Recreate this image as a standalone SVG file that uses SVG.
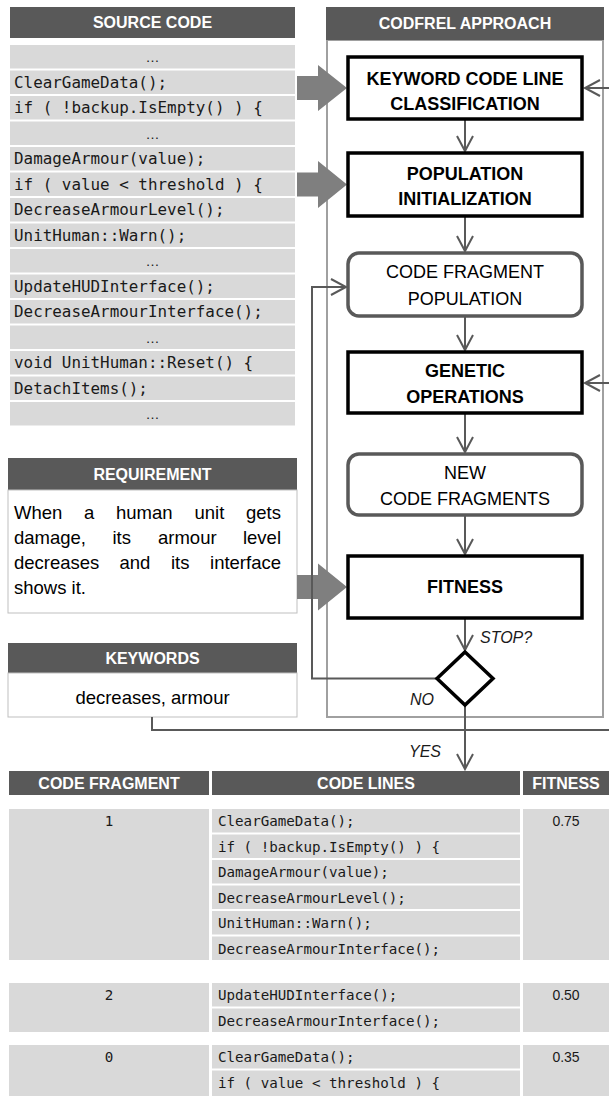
<svg xmlns="http://www.w3.org/2000/svg" width="609" height="1096" viewBox="0 0 609 1096">
<style>
.hdr{fill:#595959}
.hdrt{font-family:"Liberation Sans",Arial,sans-serif;font-weight:bold;font-size:16px;fill:#fff;text-anchor:middle}
.row{fill:#d9d9d9}
.code{font-family:"DejaVu Sans Mono","Liberation Mono",monospace;font-size:15.9px;fill:#1a1a1a}
.tcode{font-family:"DejaVu Sans Mono","Liberation Mono",monospace;font-size:14.2px;fill:#1a1a1a}
.ell{font-family:"Liberation Sans",Arial,sans-serif;font-size:14px;fill:#1a1a1a;text-anchor:middle}
.bbox{fill:#fff;stroke:#000;stroke-width:3.5}
.rbox{fill:#fff;stroke:#595959;stroke-width:3.5}
.bt{font-family:"Liberation Sans",Arial,sans-serif;font-weight:bold;font-size:18px;fill:#000;text-anchor:middle}
.nt{font-family:"Liberation Sans",Arial,sans-serif;font-size:18px;fill:#000;text-anchor:middle}
.body{font-family:"Liberation Sans",Arial,sans-serif;font-size:18.5px;fill:#000}
.lbl{font-family:"Liberation Sans",Arial,sans-serif;font-style:italic;font-size:16px;fill:#1a1a1a}
.con{fill:none;stroke:#595959;stroke-width:2}
.big{fill:#7f7f7f}
.num{font-family:"Liberation Sans",Arial,sans-serif;font-size:14px;fill:#1a1a1a;text-anchor:middle}
</style>
<defs>
<marker id="ah" markerUnits="userSpaceOnUse" markerWidth="20" markerHeight="20" viewBox="-16 -10 18 20" refX="0" refY="0" orient="auto">
<path d="M-15,-8 L0,0 L-15,8" fill="none" stroke="#595959" stroke-width="2"/>
</marker>
</defs>

<g id="source-code">
<rect class="hdr" x="10" y="7" width="285" height="31"/>
<text class="hdrt" x="152.5" y="28">SOURCE CODE</text>
<rect class="row" x="10" y="45" width="285" height="23.5"/>
<text class="ell" x="152.5" y="62">…</text>
<rect class="row" x="10" y="70.5" width="285" height="23.5"/>
<text class="code" x="14" y="87.5">ClearGameData();</text>
<rect class="row" x="10" y="96" width="285" height="23.5"/>
<text class="code" x="14" y="113">if ( !backup.IsEmpty() ) {</text>
<rect class="row" x="10" y="121.5" width="285" height="23.5"/>
<text class="ell" x="152.5" y="138.5">…</text>
<rect class="row" x="10" y="147" width="285" height="23.5"/>
<text class="code" x="14" y="164">DamageArmour(value);</text>
<rect class="row" x="10" y="172.5" width="285" height="23.5"/>
<text class="code" x="14" y="189.5">if ( value &lt; threshold ) {</text>
<rect class="row" x="10" y="198" width="285" height="23.5"/>
<text class="code" x="14" y="215">DecreaseArmourLevel();</text>
<rect class="row" x="10" y="223.5" width="285" height="23.5"/>
<text class="code" x="14" y="240.5">UnitHuman::Warn();</text>
<rect class="row" x="10" y="249" width="285" height="23.5"/>
<text class="ell" x="152.5" y="266">…</text>
<rect class="row" x="10" y="274.5" width="285" height="23.5"/>
<text class="code" x="14" y="291.5">UpdateHUDInterface();</text>
<rect class="row" x="10" y="300" width="285" height="23.5"/>
<text class="code" x="14" y="317">DecreaseArmourInterface();</text>
<rect class="row" x="10" y="325.5" width="285" height="23.5"/>
<text class="ell" x="152.5" y="342.5">…</text>
<rect class="row" x="10" y="351" width="285" height="23.5"/>
<text class="code" x="14" y="368">void UnitHuman::Reset() {</text>
<rect class="row" x="10" y="376.5" width="285" height="23.5"/>
<text class="code" x="14" y="393.5">DetachItems();</text>
<rect class="row" x="10" y="402" width="285" height="23.5"/>
<text class="ell" x="152.5" y="419">…</text>
</g>

<g id="requirement">
<rect class="hdr" x="8" y="458" width="289" height="32"/>
<text class="hdrt" x="152.5" y="480">REQUIREMENT</text>
<rect x="8" y="490" width="289" height="123" fill="#fff" stroke="#bfbfbf" stroke-width="1"/>
<text class="body" y="519"><tspan x="14">When</tspan><tspan x="84">a</tspan><tspan x="116">human</tspan><tspan x="194.5">unit</tspan><tspan x="281" text-anchor="end">gets</tspan></text>
<text class="body" y="544"><tspan x="14">damage,</tspan><tspan x="112.5">its</tspan><tspan x="158">armour</tspan><tspan x="281" text-anchor="end">level</tspan></text>
<text class="body" y="569"><tspan x="14">decreases</tspan><tspan x="119.5">and</tspan><tspan x="171">its</tspan><tspan x="281" text-anchor="end">interface</tspan></text>
<text class="body" x="14" y="594">shows it.</text>
</g>

<g id="keywords">
<rect class="hdr" x="8" y="643" width="289" height="30"/>
<text class="hdrt" x="152.5" y="664">KEYWORDS</text>
<rect x="8" y="673" width="289" height="44" fill="#fff" stroke="#bfbfbf" stroke-width="1"/>
<text class="body" x="152.5" y="704" text-anchor="middle">decreases, armour</text>
</g>

<g id="codfrel-approach">
<rect x="327" y="40" width="276" height="677" fill="#fff" stroke="#a0a0a0" stroke-width="2"/>
<rect class="hdr" x="326" y="7" width="278" height="33"/>
<text class="hdrt" x="465" y="29">CODFREL APPROACH</text>
</g>

<g id="big-arrows">
<polygon class="big" points="297,76 318,76 318,65 347,88 318,111 318,100 297,100"/>
<polygon class="big" points="297,172.5 318,172.5 318,161 347,184.5 318,208 318,196.5 297,196.5"/>
<polygon class="big" points="297,575 318,575 318,563.5 347,587 318,610.5 318,599 297,599"/>
</g>

<g id="connectors">
<path class="con" d="M465,119 V151" marker-end="url(#ah)"/>
<path class="con" d="M465,216 V251" marker-end="url(#ah)"/>
<path class="con" d="M465,316 V350" marker-end="url(#ah)"/>
<path class="con" d="M465,413 V452" marker-end="url(#ah)"/>
<path class="con" d="M465,515 V554" marker-end="url(#ah)"/>
<path class="con" d="M465,618 V650" marker-end="url(#ah)"/>
<path class="con" d="M465,705 V769" marker-end="url(#ah)"/>
<path class="con" d="M437,678.5 H312 V287 H346" marker-end="url(#ah)"/>
<path class="con" d="M152,717 V730 H612 V88"/>
<path class="con" d="M612,88 H585" marker-end="url(#ah)"/>
<path class="con" d="M612,383 H585" marker-end="url(#ah)"/>
</g>

<g id="keyword-classification">
<rect class="bbox" x="348" y="57" width="234" height="62"/>
<text class="bt" x="465" y="85">KEYWORD CODE LINE</text>
<text class="bt" x="465" y="110">CLASSIFICATION</text>
</g>
<g id="population-initialization">
<rect class="bbox" x="348" y="153" width="234" height="63"/>
<text class="bt" x="465" y="180">POPULATION</text>
<text class="bt" x="465" y="205">INITIALIZATION</text>
</g>
<g id="code-fragment-population">
<rect class="rbox" x="348" y="253" width="234" height="63" rx="11"/>
<text class="nt" x="465" y="278">CODE FRAGMENT</text>
<text class="nt" x="465" y="305">POPULATION</text>
</g>
<g id="genetic-operations">
<rect class="bbox" x="348" y="352" width="234" height="61"/>
<text class="bt" x="465" y="377">GENETIC</text>
<text class="bt" x="465" y="403">OPERATIONS</text>
</g>
<g id="new-code-fragments">
<rect class="rbox" x="348" y="454" width="234" height="61" rx="11"/>
<text class="nt" x="465" y="479">NEW</text>
<text class="nt" x="465" y="505">CODE FRAGMENTS</text>
</g>
<g id="fitness">
<rect class="bbox" x="348" y="556" width="234" height="62"/>
<text class="bt" x="465" y="593">FITNESS</text>
</g>
<g id="stop-decision">
<polygon points="465,652 493,678.5 465,705 437,678.5" fill="#fff" stroke="#000" stroke-width="3.5"/>
</g>
<g id="labels">
<text class="lbl" x="480" y="643">STOP?</text>
<text class="lbl" x="410" y="705">NO</text>
<text class="lbl" x="409" y="757">YES</text>
</g>

<g id="result-table">
<rect class="hdr" x="9" y="771" width="200" height="24"/>
<text class="hdrt" x="109" y="789">CODE FRAGMENT</text>
<rect class="hdr" x="212" y="771" width="308" height="24"/>
<text class="hdrt" x="366" y="789">CODE LINES</text>
<rect class="hdr" x="523" y="771" width="86" height="24"/>
<text class="hdrt" x="566" y="789">FITNESS</text>

<rect class="row" x="9" y="809" width="200" height="151"/>
<text class="tcode" x="109" y="826" text-anchor="middle">1</text>
<rect class="row" x="523" y="809" width="86" height="151"/>
<text class="num" x="566" y="826">0.75</text>
<rect class="row" x="212" y="809" width="308" height="23.5"/>
<text class="tcode" x="218" y="826">ClearGameData();</text>
<rect class="row" x="212" y="834.5" width="308" height="23.5"/>
<text class="tcode" x="218" y="851.5">if ( !backup.IsEmpty() ) {</text>
<rect class="row" x="212" y="860" width="308" height="23.5"/>
<text class="tcode" x="218" y="877">DamageArmour(value);</text>
<rect class="row" x="212" y="885.5" width="308" height="23.5"/>
<text class="tcode" x="218" y="902.5">DecreaseArmourLevel();</text>
<rect class="row" x="212" y="911" width="308" height="23.5"/>
<text class="tcode" x="218" y="928">UnitHuman::Warn();</text>
<rect class="row" x="212" y="936.5" width="308" height="23.5"/>
<text class="tcode" x="218" y="953.5">DecreaseArmourInterface();</text>

<rect class="row" x="9" y="983" width="200" height="49"/>
<text class="tcode" x="109" y="1000" text-anchor="middle">2</text>
<rect class="row" x="523" y="983" width="86" height="49"/>
<text class="num" x="566" y="1000">0.50</text>
<rect class="row" x="212" y="983" width="308" height="23.5"/>
<text class="tcode" x="218" y="1000">UpdateHUDInterface();</text>
<rect class="row" x="212" y="1008.5" width="308" height="23.5"/>
<text class="tcode" x="218" y="1025.5">DecreaseArmourInterface();</text>

<rect class="row" x="9" y="1045" width="200" height="51"/>
<text class="tcode" x="109" y="1062" text-anchor="middle">0</text>
<rect class="row" x="523" y="1045" width="86" height="51"/>
<text class="num" x="566" y="1062">0.35</text>
<rect class="row" x="212" y="1045" width="308" height="23.5"/>
<text class="tcode" x="218" y="1062">ClearGameData();</text>
<rect class="row" x="212" y="1070.5" width="308" height="25.5"/>
<text class="tcode" x="218" y="1087.5">if ( value &lt; threshold ) {</text>
</g>
</svg>
